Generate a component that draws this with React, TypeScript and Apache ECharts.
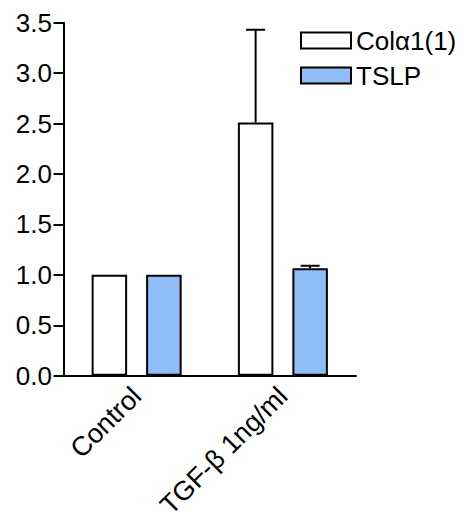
import React, { useEffect, useRef } from "react";
import * as echarts from "echarts";

const categories = ["Control", "TGF-\u03b2 1ng/ml"];
const colValues = [1.0, 2.51];
const colErrors = [0, 0.92];
const tslpValues = [1.0, 1.065];
const tslpErrors = [0, 0.025];
const yTicks = [0, 0.5, 1.0, 1.5, 2.0, 2.5, 3.0, 3.5];

const FONT = "'Liberation Sans', Arial, Helvetica, sans-serif";
const BAR_W = 35.5;
const BAR_GAP = 19;
const OFFSET = (BAR_W + BAR_GAP) / 2;

function errorSeries(name: string, values: number[], errors: number[], offset: number) {
  return {
    type: "custom",
    name: name + "-err",
    z: 5,
    silent: true,
    encode: { x: 0, y: 1 },
    data: values.map((v, i) => [i, v, errors[i]]),
    renderItem: (params: any, api: any) => {
      const cat = api.value(0);
      const v = api.value(1);
      const e = api.value(2);
      if (!e) return { type: "group", children: [] };
      const base = api.coord([cat, v]);
      const top = api.coord([cat, v + e]);
      const x = base[0] + offset;
      const cap = 9.5;
      return {
        type: "group",
        children: [
          { type: "line", shape: { x1: x, y1: base[1], x2: x, y2: top[1] }, style: { stroke: "#000", lineWidth: 2 } },
          { type: "line", shape: { x1: x - cap, y1: top[1], x2: x + cap, y2: top[1] }, style: { stroke: "#000", lineWidth: 2 } },
        ],
      };
    },
  };
}

export default function App() {
  const ref = useRef<HTMLDivElement>(null);
  useEffect(() => {
    if (!ref.current) return;
    const chart = echarts.init(ref.current, null, { renderer: "svg" });
    chart.setOption({
      animation: false,
      backgroundColor: "#fff",
      textStyle: { fontFamily: FONT },
      grid: {
        left: 63.5,
        right: 108,
        top: 22.7,
        bottom: 137.3,
        containLabel: false,
        outerBoundsMode: "none",
      },
      legend: {
        orient: "vertical",
        left: 300,
        top: 27.5,
        padding: 0,
        itemWidth: 50,
        itemHeight: 16,
        itemGap: 9,
        icon: "rect",
        data: ["Col\u03b11(1)", "TSLP"],
        textStyle: { fontSize: 26, color: "#000", fontFamily: FONT },
      },
      xAxis: {
        type: "category",
        data: categories,
        axisLine: { show: true, lineStyle: { color: "#000", width: 2 } },
        axisTick: { show: false },
        axisLabel: {
          rotate: 45,
          fontSize: 27,
          color: "#000",
          fontFamily: FONT,
          margin: 16,
          verticalAlign: "middle",
          interval: 0,
        },
      },
      yAxis: {
        type: "value",
        min: 0,
        max: 3.5,
        interval: 0.5,
        splitLine: { show: false },
        axisLine: { show: true, lineStyle: { color: "#000", width: 2 } },
        axisTick: { show: true, length: 10, lineStyle: { color: "#000", width: 2 } },
        axisLabel: {
          fontSize: 26,
          color: "#000",
          fontFamily: FONT,
          margin: 11.5,
          formatter: (v: number) => (yTicks.includes(v) ? v.toFixed(1) : ""),
        },
      },
      series: [
        {
          name: "Col\u03b11(1)",
          type: "bar",
          data: colValues,
          barWidth: BAR_W,
          barGap: (BAR_GAP / BAR_W) * 100 + "%",
          itemStyle: { color: "#ffffff", borderColor: "#000", borderWidth: 2 },
        },
        {
          name: "TSLP",
          type: "bar",
          data: tslpValues,
          barWidth: BAR_W,
          itemStyle: { color: "#8fbdf7", borderColor: "#000", borderWidth: 2 },
        },
        errorSeries("Col", colValues, colErrors, -OFFSET),
        errorSeries("TSLP", tslpValues, tslpErrors, OFFSET),
      ],
    });
    return () => chart.dispose();
  }, []);
  return <div ref={ref} style={{ position: "fixed", left: 0, top: 0, width: 464, height: 513 }} />;
}
